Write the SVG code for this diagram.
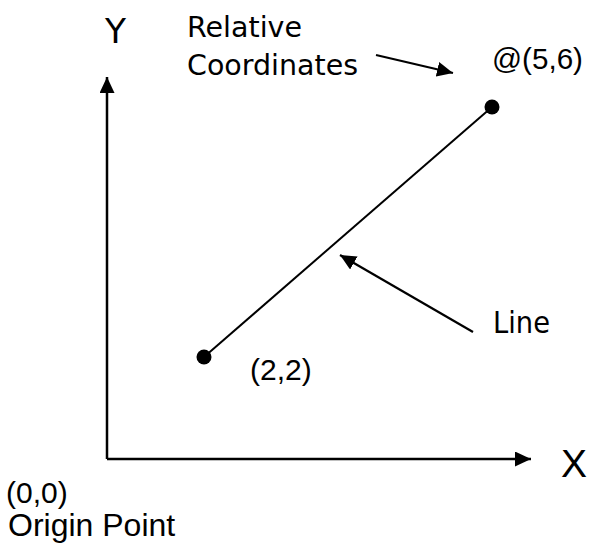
<svg xmlns="http://www.w3.org/2000/svg" width="592" height="543" viewBox="0 0 592 543">
  <style>
    .hand { font-family: "DejaVu Sans", "Liberation Sans", sans-serif; fill: #000; }
    .arial { font-family: "Liberation Sans", Arial, sans-serif; fill: #000; }
    .conn { stroke: #000; fill: none; }
    .dot { fill: #000; }
  </style>
  <defs>
    <marker id="arrow" markerUnits="userSpaceOnUse" markerWidth="17" markerHeight="16" refX="16" refY="7.5" orient="auto">
      <path d="M0,0 L16,7.5 L0,15 z" fill="#000"/>
    </marker>
  </defs>
  <rect width="592" height="543" fill="#fff"/>

  <g id="connectors">
    <line class="conn" x1="107" y1="459" x2="107" y2="77" stroke-width="2.5" marker-end="url(#arrow)"/>
    <line class="conn" x1="107" y1="459" x2="531" y2="459" stroke-width="2.5" marker-end="url(#arrow)"/>
    <line class="conn" x1="204" y1="357" x2="492" y2="107" stroke-width="2"/>
    <line class="conn" x1="473" y1="332" x2="340" y2="255" stroke-width="2.2" marker-end="url(#arrow)"/>
    <line class="conn" x1="376" y1="55" x2="453" y2="73" stroke-width="2.2" marker-end="url(#arrow)"/>
  </g>

  <g id="y-label"><text class="hand" x="105" y="43" font-size="34" textLength="21" lengthAdjust="spacingAndGlyphs">Y</text></g>
  <g id="x-label"><text class="arial" x="561" y="477" font-size="39">X</text></g>
  <g id="relative-label">
    <text class="hand" x="187" y="37" font-size="29" textLength="115" lengthAdjust="spacingAndGlyphs">Relative</text>
    <text class="hand" x="187" y="75" font-size="29" textLength="171" lengthAdjust="spacingAndGlyphs">Coordinates</text>
  </g>
  <g id="end-point">
    <circle class="dot" cx="492" cy="107" r="7.5"/>
    <text class="arial" x="492" y="69" font-size="29" textLength="91" lengthAdjust="spacingAndGlyphs">@(5,6)</text>
  </g>
  <g id="start-point">
    <circle class="dot" cx="204" cy="357" r="7.5"/>
    <text class="arial" x="250" y="380" font-size="30">(2,2)</text>
  </g>
  <g id="line-label"><text class="hand" x="493" y="333" font-size="30" textLength="57" lengthAdjust="spacingAndGlyphs">Line</text></g>
  <g id="origin">
    <text class="arial" x="6" y="503" font-size="30">(0,0)</text>
    <text class="arial" x="8" y="536" font-size="32">Origin Point</text>
  </g>
</svg>
